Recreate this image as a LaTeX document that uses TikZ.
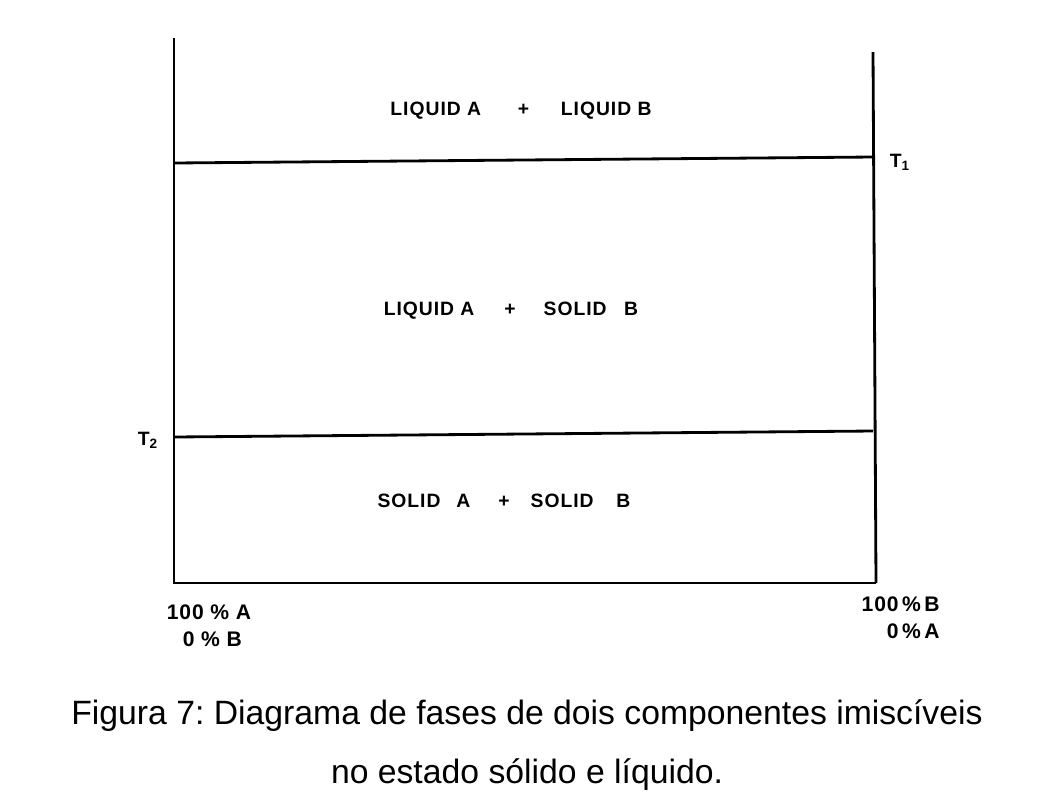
\documentclass[tikz,border=0pt]{standalone}
\usepackage{fontspec}
\setmainfont{Liberation Sans}
\usepackage{tikz}
\frenchspacing

\begin{document}
\begin{tikzpicture}[x=0.02cm, y=-0.02cm, line width=1.6pt,
  phase/.style={font=\fontsize{11}{13}\selectfont\bfseries\addfontfeatures{LetterSpace=5}},
  axislabel/.style={font=\fontsize{12}{15.3}\selectfont\bfseries\addfontfeatures{LetterSpace=4}, inner sep=0pt},
  caption/.style={font=\fontsize{19.2}{23}\selectfont}]
\useasboundingbox (0,0) rectangle (1054,802);
% Corners
\coordinate (topleft) at (174,38);
\coordinate (topright) at (873,52);
\coordinate (botleft) at (174,583);
\coordinate (botright) at (876,583);
\coordinate (t1left) at (174,163);
\coordinate (t1right) at (873,157);
\coordinate (t2left) at (174,437);
\coordinate (t2right) at (873,431);

% Nodes
\node[phase] (liqliq) at (521,111) {LIQUID A\hspace{21pt}+\hspace{18pt}LIQUID B};
\node[phase] (liqsol) at (511,311) {LIQUID A\hspace{17pt}+\hspace{16pt}SOLID\hspace{10pt}B};
\node[phase] (solsol) at (504,501) {SOLID\hspace{9pt}A\hspace{16pt}+\hspace{12pt}SOLID\hspace{13pt}B};
\node[phase] (tone) at (900,162) {T\textsubscript{1}};
\node[phase] (ttwo) at (148,440) {T\textsubscript{2}};
\node[axislabel, align=center] (pureA) at (209,626) {100 \% A\\\ 0 \% B};
\node[axislabel, align=right, anchor=east] (pureB) at (941,618) {100\,\%\,B\\0\,\%\,A};
\node[caption] (capone) at (527,716) {Figura 7: Diagrama de fases de dois componentes imiscíveis};
\node[caption] (captwo) at (527,775) {no estado sólido e líquido.};

% Lines
\draw (topleft) -- (botleft) -- (botright);
\draw (topright) -- (botright);
\draw (t1left) -- (t1right);
\draw (t2left) -- (t2right);
\end{tikzpicture}
\end{document}
